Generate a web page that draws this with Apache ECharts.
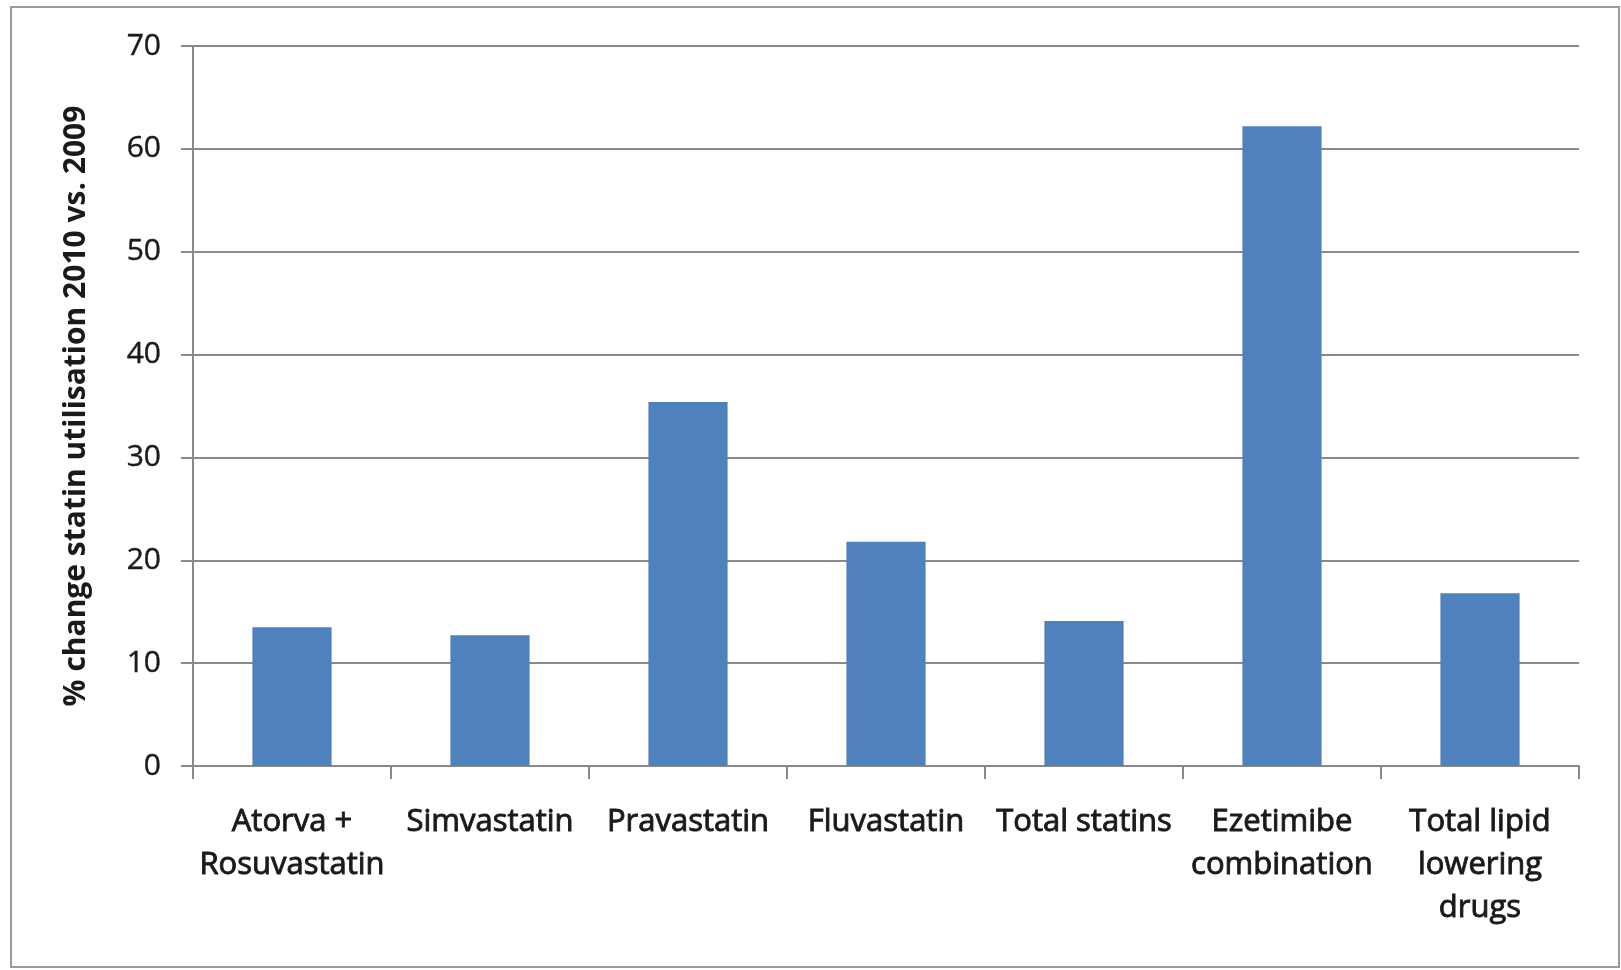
<!DOCTYPE html>
<html>
<head>
<meta charset="utf-8">
<script src="https://cdn.jsdelivr.net/npm/echarts@6/dist/echarts.min.js"></script>
<style>
  html, body { margin: 0; padding: 0; background: #ffffff; }
  #chart { width: 1621px; height: 970px; }
</style>
</head>
<body>
<div id="chart"></div>
<script>
// Drug groups on the x axis
const categories = [
  'Atorva +\nRosuvastatin',
  'Simvastatin',
  'Pravastatin',
  'Fluvastatin',
  'Total statins',
  'Ezetimibe\ncombination',
  'Total lipid\nlowering\ndrugs'
];

// % change in utilisation, 2010 vs. 2009
const changeValues = [13.5, 12.7, 35.4, 21.8, 14.1, 62.2, 16.8];

// Value axis settings
const yMin = 0;
const yMax = 70;
const yStep = 10;

const axisTitle = '% change statin utilisation 2010 vs. 2009';

const chart = echarts.init(document.getElementById('chart'), null, { renderer: 'canvas' });

const font = '"Open Sans", Lato, sans-serif';
const gray = '#8a8a8a';
const ink = '#1a1a1a';

chart.setOption({
  backgroundColor: '#ffffff',
  animation: false,
  graphic: [{
    type: 'rect',
    shape: { x: 11, y: 7, width: 1608, height: 960 },
    style: { fill: 'none', stroke: '#9a9a9a', lineWidth: 2 },
    silent: true
  }],
  grid: { left: 193, right: 42, top: 46, bottom: 204, containLabel: false },
  xAxis: {
    type: 'category',
    data: categories,
    axisLine: { show: true, lineStyle: { color: gray, width: 2 } },
    axisTick: { show: true, alignWithLabel: false, length: 13, lineStyle: { color: gray, width: 2 } },
    axisLabel: {
      interval: 0,
      margin: 35,
      fontFamily: font,
      fontWeight: 'normal',
      fontSize: 31,
      lineHeight: 43,
      color: ink,
      // a thin outline in the text colour gives a semibold look
      textBorderColor: ink,
      textBorderWidth: 0.9
    },
    splitLine: { show: false }
  },
  yAxis: {
    type: 'value',
    min: yMin,
    max: yMax,
    interval: yStep,
    name: axisTitle,
    nameLocation: 'middle',
    nameGap: 102,
    nameRotate: 90,
    nameTextStyle: {
      fontFamily: font,
      fontWeight: 'bold',
      fontSize: 30,
      color: ink
    },
    axisLine: { show: true, lineStyle: { color: gray, width: 2 } },
    axisTick: { show: true, length: 12, lineStyle: { color: gray, width: 2 } },
    axisLabel: {
      margin: 32,
      fontFamily: font,
      fontSize: 30,
      fontWeight: 'normal',
      color: ink,
      textBorderColor: ink,
      textBorderWidth: 0.4
    },
    splitLine: { show: true, lineStyle: { color: gray, width: 2 } }
  },
  series: [{
    type: 'bar',
    data: changeValues,
    barWidth: '40%',
    itemStyle: { color: '#4f81bd' }
  }]
});
</script>
</body>
</html>
